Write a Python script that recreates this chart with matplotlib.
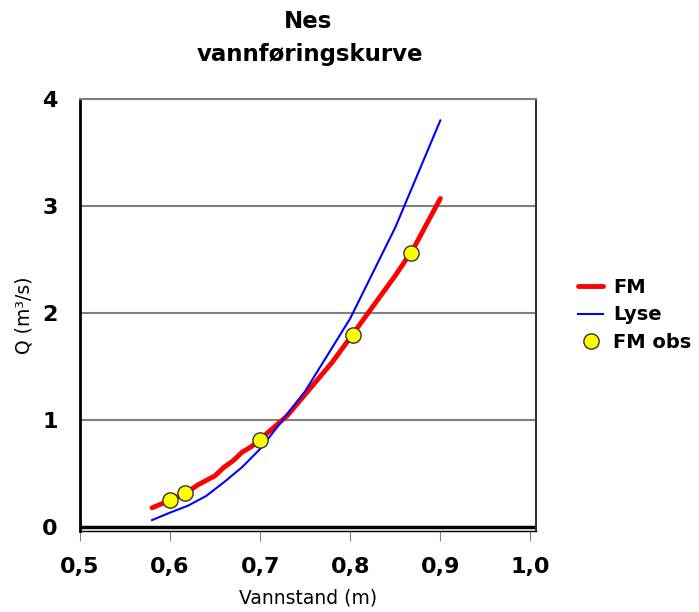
import matplotlib
matplotlib.use("Agg")
import matplotlib.pyplot as plt

plt.rcParams["font.family"] = "DejaVu Sans"

# ── data ──
fm_h = [0.58, 0.60, 0.62, 0.63, 0.65, 0.66, 0.67, 0.68, 0.69, 0.70,
        0.73, 0.755, 0.78, 0.80, 0.85, 0.87, 0.90]
fm_q = [0.18, 0.25, 0.33, 0.39, 0.48, 0.56, 0.62, 0.70, 0.75, 0.82,
        1.04, 1.29, 1.54, 1.77, 2.35, 2.60, 3.07]

lyse_h = [0.58, 0.60, 0.62, 0.64, 0.66, 0.68, 0.70, 0.75, 0.80, 0.85, 0.90]
lyse_q = [0.065, 0.135, 0.20, 0.29, 0.42, 0.56, 0.73, 1.27, 1.95, 2.80, 3.80]

obs_h = [0.600, 0.617, 0.700, 0.803, 0.867]
obs_q = [0.25, 0.32, 0.81, 1.79, 2.56]

x_ticks = [0.5, 0.6, 0.7, 0.8, 0.9, 1.0]
y_ticks = [0, 1, 2, 3, 4]

fig = plt.figure(figsize=(6.99, 6.12), dpi=100)
ax = fig.add_axes([80 / 699, 1 - 531 / 612, (536 - 80) / 699, (531 - 99) / 612])

ax.set_xlim(0.5, 1.0062)
ax.set_ylim(-0.037, 4)

# horisontale gridlinjer
for yv in y_ticks[1:]:
    ax.axhline(yv, color="#808080", linewidth=1.5, zorder=1)
ax.axhline(0, color="black", linewidth=2.5, zorder=2)

ax.plot(fm_h, fm_q, color="#ff0000", linewidth=3.5, label="FM", zorder=3,
        solid_capstyle="round")
ax.plot(lyse_h, lyse_q, color="#0000ff", linewidth=1.5, label="Lyse", zorder=3)
ax.plot(obs_h, obs_q, linestyle="none", marker="o", markersize=11,
        markerfacecolor="#ffff00", markeredgecolor="#333333",
        markeredgewidth=1, label="FM obs", zorder=4)

ax.set_xticks(x_ticks)
ax.set_xticklabels([f"{v:.1f}".replace(".", ",") for v in x_ticks])
ax.set_yticks(y_ticks)
ax.set_yticklabels([str(v) for v in y_ticks])
for lab in ax.get_xticklabels() + ax.get_yticklabels():
    lab.set_fontweight("bold")
    lab.set_fontsize(16)
ax.tick_params(axis="x", direction="out", length=7, color="#808080", pad=12)
ax.tick_params(axis="y", length=0, pad=16)

ax.spines["left"].set_linewidth(2)
ax.spines["left"].set_color("black")
ax.spines["right"].set_linewidth(1.5)
ax.spines["right"].set_color("#333333")
ax.spines["top"].set_linewidth(1.5)
ax.spines["top"].set_color("#808080")
ax.spines["bottom"].set_linewidth(1)
ax.spines["bottom"].set_color("black")

ax.set_xlabel("Vannstand (m)", fontsize=13.5, labelpad=8)
ax.set_ylabel("Q (m³/s)", fontsize=13.5, labelpad=6)

fig.text(308 / 699, 1 - 22 / 612, "Nes", ha="center", va="center",
         fontsize=16.5, fontweight="bold")
fig.text(310 / 699, 1 - 55 / 612, "vannføringskurve", ha="center", va="center",
         fontsize=16.5, fontweight="bold")

leg = ax.legend(loc="center left", bbox_to_anchor=(1.062, 0.50), frameon=False,
                prop={"weight": "bold", "size": 14}, handlelength=1.3,
                handletextpad=0.5, labelspacing=0.45, borderpad=0.2)

fig.savefig("out.png", dpi=100)
